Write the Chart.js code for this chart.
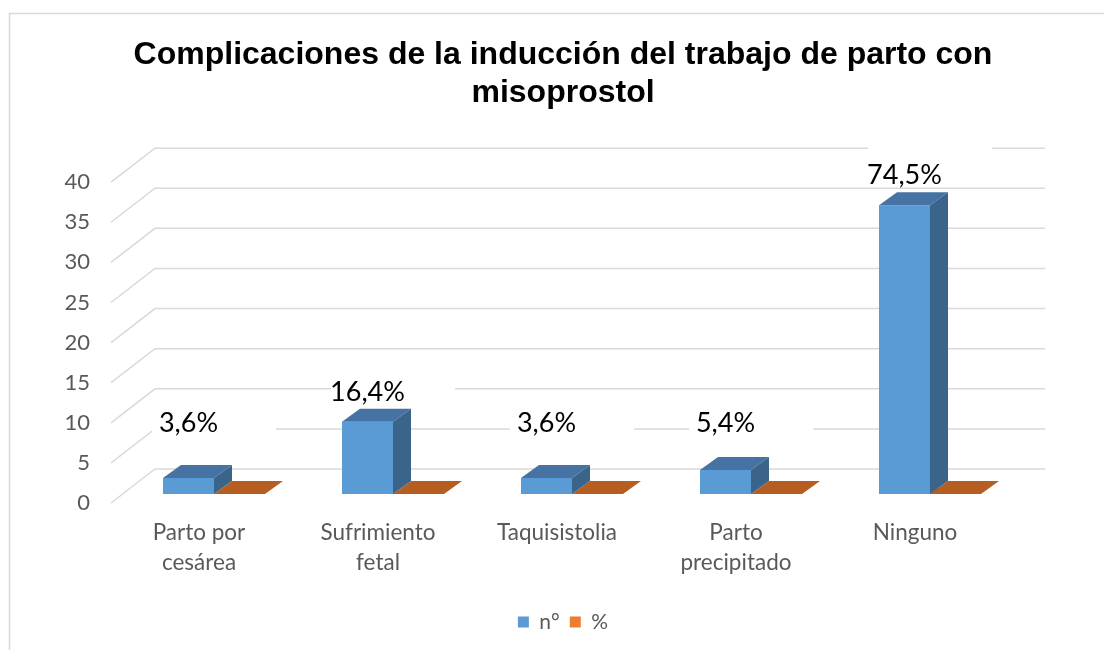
<!DOCTYPE html>
<html>
<head>
<meta charset="utf-8">
<title>Complicaciones de la inducción</title>
<script src="https://cdn.jsdelivr.net/npm/chart.js@4/dist/chart.umd.min.js"></script>
<style>
  html, body { margin: 0; padding: 0; background: #fff; overflow: hidden; }
  #wrap { width: 1126px; height: 650px; position: relative; }
</style>
</head>
<body>
<div id="wrap"><canvas id="chart"></canvas></div>
<script>
  const categories = [['Parto por', 'cesárea'], ['Sufrimiento', 'fetal'], 'Taquisistolia', ['Parto', 'precipitado'], 'Ninguno'];
  const countValues = [2, 9, 2, 3, 36];
  const percentValues = [3.6, 16.4, 3.6, 5.4, 74.5];
  const yMin = 0;
  const yMax = 40;
  const yStep = 5;

  const textFont = 'Lato';
  const axisGrey = '#595959';
  const blue = '#5B9BD5';
  const blueTop = '#4673A3';
  const blueSide = '#3A6489';
  const orange = '#ED7D31';
  const orangeFloor = '#B65E22';

  // 3D look: bar depth and the offset of the front/back planes from the bar plane
  const barDepth = { dx: 18, dy: -13 };
  const frontPlane = { dx: -13.5, dy: 9 };
  const backPlane = { dx: 30.5, dy: -25 };

  function pctText(p) {
    return p.toFixed(1).replace('.', ',') + '%';
  }

  function poly(ctx, pts, fill) {
    ctx.beginPath();
    ctx.moveTo(pts[0][0], pts[0][1]);
    for (let i = 1; i < pts.length; i++) {
      ctx.lineTo(pts[i][0], pts[i][1]);
    }
    ctx.closePath();
    ctx.fillStyle = fill;
    ctx.fill();
  }

  const wallPlugin = {
    id: 'wall',
    beforeDraw(chart) {
      const ctx = chart.ctx;
      ctx.save();
      ctx.strokeStyle = '#D9D9D9';
      ctx.lineWidth = 1.5;
      ctx.strokeRect(9.5, 13.5, chart.width + 50, chart.height + 50);
      ctx.restore();
    },
    beforeDatasetsDraw(chart) {
      const ctx = chart.ctx;
      const area = chart.chartArea;
      const y = chart.scales.y;
      ctx.save();
      ctx.strokeStyle = '#D9D9D9';
      ctx.lineWidth = 1.5;
      for (let v = yMin; v <= yMax; v += yStep) {
        const py = y.getPixelForValue(v);
        ctx.beginPath();
        ctx.moveTo(area.left + frontPlane.dx, py + frontPlane.dy);
        ctx.lineTo(area.left + backPlane.dx, py + backPlane.dy);
        ctx.lineTo(area.right + 25.5, py + backPlane.dy);
        ctx.stroke();
      }
      ctx.restore();
    },
    afterDatasetsDraw(chart) {
      const ctx = chart.ctx;
      const y = chart.scales.y;
      const nMeta = chart.getDatasetMeta(0);
      const pMeta = chart.getDatasetMeta(1);
      ctx.save();

      // flat % bars lying on the floor
      pMeta.data.forEach((bar) => {
        const b = bar.getProps(['x', 'width', 'base'], true);
        const l = b.x - b.width / 2;
        const r = b.x + b.width / 2;
        poly(ctx, [[l, b.base], [r, b.base], [r + barDepth.dx, b.base + barDepth.dy], [l + barDepth.dx, b.base + barDepth.dy]], orangeFloor);
      });

      // top and side faces of the n° bars
      nMeta.data.forEach((bar) => {
        const b = bar.getProps(['x', 'y', 'width', 'base'], true);
        const l = b.x - b.width / 2;
        const r = b.x + b.width / 2;
        poly(ctx, [[l, b.y], [r, b.y], [r + barDepth.dx, b.y + barDepth.dy], [l + barDepth.dx, b.y + barDepth.dy]], blueTop);
        poly(ctx, [[r, b.y], [r + barDepth.dx, b.y + barDepth.dy], [r + barDepth.dx, b.base + barDepth.dy], [r, b.base]], blueSide);
      });

      // data labels; the short bars share one label row like in the source
      const labelRow = y.getPixelForValue(9);
      ctx.font = '27px ' + textFont;
      ctx.textAlign = 'center';
      ctx.textBaseline = 'middle';
      nMeta.data.forEach((bar, i) => {
        const b = bar.getProps(['x', 'y', 'width'], true);
        const ly = Math.min(b.y - 30, labelRow + 1);
        const cx = b.x + b.width / 2;
        ctx.fillStyle = '#fff';
        ctx.fillRect(cx - 62, ly - 30, 124, 41);
        ctx.fillStyle = '#000';
        ctx.fillText(pctText(percentValues[i]), b.x, ly);
      });
      ctx.restore();
    }
  };

  new Chart(document.getElementById('chart'), {
    type: 'bar',
    data: {
      labels: categories,
      datasets: [
        { label: 'n°', data: countValues, backgroundColor: blue },
        { label: '%', data: percentValues.map((p) => p / 100), backgroundColor: orange },
      ],
    },
    options: {
      responsive: true,
      maintainAspectRatio: false,
      animation: false,
      categoryPercentage: 0.57,
      barPercentage: 1,
      layout: { padding: { bottom: 7.5 } },
      plugins: {
        title: {
          display: true,
          text: ['Complicaciones de la inducción del trabajo de parto con', 'misoprostol'],
          color: '#000',
          font: { family: 'Liberation Sans', weight: 'bold', size: 32, lineHeight: 1.19 },
          padding: { top: 36, bottom: 61 },
        },
        legend: {
          position: 'bottom',
          labels: {
            boxWidth: 11,
            boxHeight: 11,
            padding: 10,
            color: axisGrey,
            font: { family: textFont, size: 21 },
          },
        },
        tooltip: { enabled: false },
      },
      scales: {
        x: {
          grid: { display: false },
          border: { display: false },
          ticks: {
            color: axisGrey,
            font: { family: textFont, size: 22.5, lineHeight: 1.333 },
            padding: 16,
            labelOffset: -15,
            maxRotation: 0,
            autoSkip: false,
          },
          afterFit(scale) { scale.height = 107.5; },
        },
        y: {
          min: yMin,
          max: yMax,
          grid: { display: false },
          border: { display: false },
          ticks: {
            stepSize: yStep,
            color: axisGrey,
            font: { family: textFont, size: 22 },
            padding: 26.5,
            labelOffset: 9,
          },
          afterFit(scale) { scale.width = 124.5; },
        },
        y2: {
          position: 'right',
          display: true,
          grid: { display: false },
          border: { display: false },
          ticks: { display: false },
          afterFit(scale) { scale.width = 106.5; },
        },
      },
    },
    plugins: [wallPlugin],
  });
</script>
</body>
</html>
